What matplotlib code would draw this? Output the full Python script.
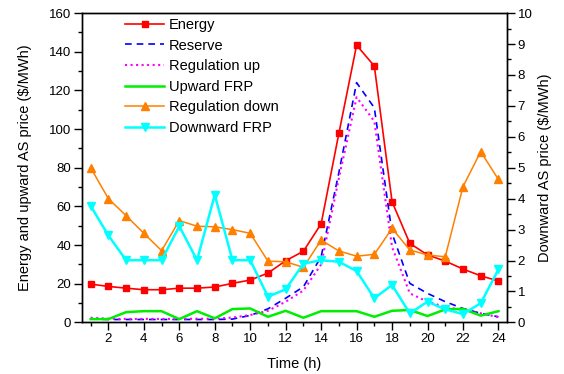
import numpy as np
import matplotlib
matplotlib.use("Agg")
import matplotlib.pyplot as plt
from matplotlib.ticker import MultipleLocator, FixedLocator

plt.rcParams['font.family'] = ['Liberation Sans', 'DejaVu Sans']

hours = list(range(1, 25))

# left axis ($/MWh)
energy = [19.8, 18.6, 17.7, 16.9, 16.9, 17.7, 17.7, 18.3, 20.2, 21.9, 25.5, 31.9,
          36.8, 51.0, 97.8, 143.4, 132.6, 62.4, 40.9, 34.9, 31.7, 27.6, 24.1, 21.4]
reserve = [1.7, 1.5, 1.5, 1.5, 1.5, 1.5, 1.5, 1.5, 1.7, 3.6, 7.0, 12.5,
           18.4, 34.0, 77.5, 124.0, 111.0, 46.0, 20.2, 15.0, 10.7, 7.2, 4.7, 2.9]
reg_up = [2.4, 1.9, 1.8, 1.8, 1.8, 1.8, 1.9, 1.9, 2.5, 3.8, 6.0, 10.7,
          16.5, 30.0, 74.6, 116.5, 104.0, 39.0, 15.0, 10.7, 8.0, 6.4, 4.7, 2.7]
up_frp = [1.7, 1.7, 5.3, 5.8, 5.8, 1.7, 5.8, 2.1, 6.9, 7.2, 2.9, 6.0,
          2.4, 5.8, 5.8, 5.8, 2.9, 6.0, 6.4, 3.3, 6.7, 7.0, 3.5, 5.8]

# right axis ($/MWh)
reg_down = [5.0, 4.0, 3.45, 2.88, 2.32, 3.29, 3.11, 3.09, 3.0, 2.88, 1.98, 1.96,
            1.78, 2.66, 2.31, 2.14, 2.2, 3.04, 2.34, 2.18, 2.12, 4.39, 5.52, 4.62]
down_frp = [3.77, 2.81, 2.01, 2.01, 2.01, 3.11, 2.01, 4.12, 2.01, 2.01, 0.83, 1.07,
            1.9, 2.01, 1.96, 1.66, 0.78, 1.21, 0.29, 0.67, 0.42, 0.27, 0.62, 1.71]

x_labels = [2, 4, 6, 8, 10, 12, 14, 16, 18, 20, 22, 24]

fig = plt.figure(figsize=(5.64, 3.74), dpi=100)
ax = fig.add_axes([0.145, 0.138, 0.7545, 0.827])
ax2 = ax.twinx()

l1, = ax.plot(hours, energy, '-s', color='#ff0000', lw=1.2, ms=4.5, label='Energy')
l2, = ax.plot(hours, reserve, '--', color='#0000ff', lw=1.2, dashes=(4, 3), label='Reserve')
l3, = ax.plot(hours, reg_up, ':', color='#ff00ff', lw=1.5, label='Regulation up')
l4, = ax.plot(hours, up_frp, '-', color='#00ee00', lw=1.8, label='Upward FRP')
l5, = ax2.plot(hours, reg_down, '-^', color='#ff8000', lw=1.1, ms=5.5, label='Regulation down')
l6, = ax2.plot(hours, down_frp, '-v', color='#00ffff', lw=1.8, ms=5.5, label='Downward FRP')

ax.set_xlim(0.5, 24.5)
ax.set_ylim(0, 160)
ax2.set_ylim(0, 10)

ax.xaxis.set_major_locator(FixedLocator(x_labels))
ax.xaxis.set_minor_locator(FixedLocator([h for h in hours if h % 2 == 1]))
ax.yaxis.set_major_locator(MultipleLocator(20))
ax.yaxis.set_minor_locator(MultipleLocator(10))
ax2.yaxis.set_major_locator(MultipleLocator(1))
ax2.yaxis.set_minor_locator(MultipleLocator(0.5))

for a in (ax, ax2):
    a.tick_params(which='major', direction='out', length=5.5, width=1, labelsize=9.5, pad=2)
    a.tick_params(which='minor', direction='out', length=3, width=1)
    for s in a.spines.values():
        s.set_linewidth(1)

ax.set_xlabel('Time (h)', fontsize=10.5, labelpad=9)
ax.set_ylabel('Energy and upward AS price ($/MWh)', fontsize=10.5, labelpad=12)
ax2.set_ylabel('Downward AS price ($/MWh)', fontsize=10.5, labelpad=4)

fig.legend(handles=[l1, l2, l3, l4, l5, l6], loc='upper left',
           bbox_to_anchor=(125 / 564, 1 - 18 / 374), frameon=False,
           fontsize=10.5, handlelength=2.7, handletextpad=0.3,
           labelspacing=0.45, borderpad=0, borderaxespad=0)

plt.savefig('out.png', dpi=100)
